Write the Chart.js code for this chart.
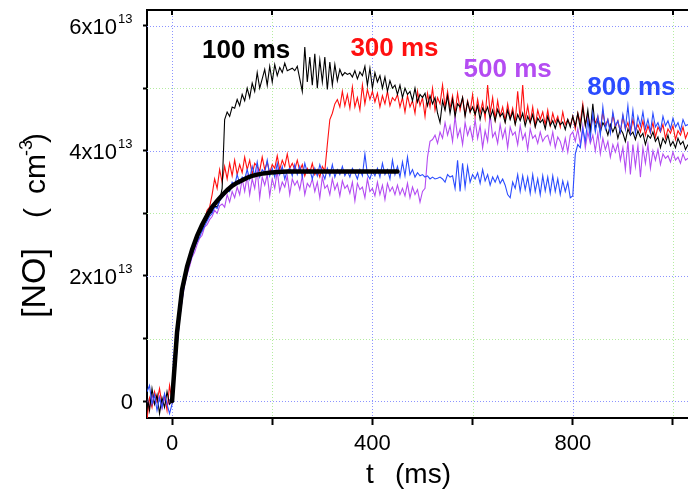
<!DOCTYPE html>
<html>
<head>
<meta charset="utf-8">
<title>NO</title>
<script src="https://cdn.jsdelivr.net/npm/chart.js@4.4.1/dist/chart.umd.min.js"></script>
<style>
    html, body { margin: 0; padding: 0; background: #fff; }
    canvas { display: block; }
</style>
</head>
<body>
<canvas id="chart" width="688" height="493"></canvas>
<script>
// Traces are sampled every 5 ms, first sample at -50 ms.
const T_START = -50;
const T_STEP = 5;
// Fit curve: one point every 10 ms from 0 ms.
const FIT_START = 0;
const FIT_STEP = 10;

// [NO] in units of 1e13 cm^-3, one row = 100 ms
const no100ms = [
    0.10, -0.15, 0.20, -0.05, 0.10, -0.20, 0.05, -0.10, 0.15, -0.05, 0.00, 0.55, 1.05, 1.50, 1.72, 2.00, 2.08, 2.30, 2.35, 2.52,
    2.55, 2.70, 2.72, 2.85, 2.90, 3.00, 3.02, 3.12, 3.10, 3.20, 3.40, 4.50, 4.62, 4.55, 4.70, 4.68, 4.82, 4.72, 4.90, 4.80,
    5.00, 4.85, 5.08, 4.95, 5.25, 5.00, 5.15, 5.30, 5.05, 5.35, 5.10, 5.38, 5.20, 5.33, 5.25, 5.40, 5.28, 5.30, 5.32, 5.28,
    5.35, 5.15, 4.95, 5.66, 5.10, 5.50, 5.05, 5.55, 5.00, 5.45, 5.10, 5.50, 4.98, 5.42, 5.05, 5.38, 5.12, 5.30, 5.20, 5.25,
    5.22, 5.24, 5.18, 5.28, 5.15, 5.26, 5.20, 5.35, 5.05, 5.32, 5.00, 5.25, 5.10, 5.20, 5.00, 5.18, 4.95, 5.12, 5.00, 5.05,
    4.90, 5.05, 4.85, 5.00, 4.90, 4.95, 4.80, 5.00, 4.78, 4.90, 4.85, 4.92, 4.72, 4.88, 4.75, 4.85, 4.60, 4.45, 4.80, 4.65,
    4.88, 4.60, 4.82, 4.55, 4.75, 4.70, 4.85, 4.55, 4.78, 4.62, 4.70, 4.58, 4.72, 4.50, 4.68, 4.60, 4.70, 4.52, 4.65, 4.48,
    4.66, 4.55, 4.60, 4.45, 4.65, 4.50, 4.62, 4.42, 4.58, 4.48, 4.60, 4.40, 4.55, 4.45, 4.58, 4.38, 4.52, 4.45, 4.50, 4.35,
    4.55, 4.40, 4.48, 4.36, 4.50, 4.42, 4.46, 4.34, 4.50, 4.38, 4.55, 4.40, 4.60, 4.35, 4.70, 4.40, 4.65, 4.30, 4.75, 4.35,
    4.50, 4.30, 4.45, 4.38, 4.25, 4.42, 4.30, 4.40, 4.20, 4.35, 4.28, 4.15, 4.35, 4.25, 4.30, 4.18, 4.32, 4.22, 4.28, 4.10,
    4.25, 4.20, 4.30, 4.15, 4.22, 4.05, 4.20, 4.12, 4.25, 4.08, 4.15, 4.05, 4.20, 4.10, 4.15, 4.02, 4.10
];

const no300ms = [
    -0.30, 0.05, -0.10, 0.15, 0.00, 0.20, -0.05, 0.10, -0.15, 0.25, 0.00, 0.45, 0.95, 1.35, 1.70, 1.92, 2.12, 2.20, 2.42, 2.45,
    2.62, 2.68, 2.85, 2.90, 3.05, 3.10, 3.30, 3.55, 3.40, 3.70, 3.50, 3.75, 3.55, 3.80, 3.60, 3.85, 3.62, 3.78, 3.65, 3.90,
    3.70, 3.85, 3.62, 3.80, 3.75, 3.68, 3.90, 3.70, 3.82, 3.65, 3.78, 3.72, 3.92, 3.70, 3.85, 3.75, 3.95, 3.72, 3.80, 3.70,
    3.85, 3.68, 3.78, 3.60, 3.72, 3.65, 3.80, 3.62, 3.70, 3.58, 3.75, 3.68, 4.10, 4.50, 4.60, 4.75, 4.82, 4.70, 4.95, 4.72,
    4.90, 4.68, 5.02, 4.70, 4.85, 4.65, 5.05, 4.75, 4.98, 4.82, 4.95, 4.78, 4.92, 4.70, 4.88, 4.75, 4.95, 4.72, 4.85, 4.80,
    4.90, 4.70, 4.85, 4.62, 4.88, 4.70, 4.80, 4.60, 4.95, 4.72, 4.85, 4.55, 4.92, 4.70, 5.00, 4.65, 4.85, 4.75, 5.05, 4.70,
    4.95, 4.68, 4.88, 4.60, 4.92, 4.65, 4.85, 4.58, 4.80, 4.62, 4.90, 4.55, 4.82, 4.60, 4.78, 4.52, 5.05, 4.60, 4.85, 4.50,
    4.80, 4.55, 4.70, 4.48, 4.75, 4.52, 4.68, 4.45, 4.95, 4.50, 5.05, 4.48, 4.72, 4.45, 4.70, 4.40, 4.65, 4.50, 4.62, 4.42,
    4.65, 4.40, 4.60, 4.45, 4.55, 4.38, 4.62, 4.42, 4.50, 4.40, 4.55, 4.35, 4.60, 4.45, 4.75, 4.42, 4.58, 4.38, 4.52, 4.45,
    4.55, 4.35, 4.62, 4.40, 4.50, 4.32, 4.58, 4.38, 4.48, 4.30, 4.55, 4.35, 4.45, 4.28, 4.50, 4.32, 4.42, 4.30, 4.48, 4.25,
    4.40, 4.28, 4.45, 4.22, 4.38, 4.30, 4.42, 4.20, 4.35, 4.28, 4.40, 4.18, 4.32, 4.25, 4.38, 4.20, 4.30
];

const no500ms = [
    0.05, -0.10, 0.10, -0.05, 0.00, 0.08, -0.12, 0.05, -0.08, 0.02, -0.02, 0.40, 0.90, 1.30, 1.60, 1.85, 2.02, 2.15, 2.30, 2.38,
    2.50, 2.60, 2.65, 2.78, 2.82, 2.90, 2.95, 3.05, 3.00, 3.12, 3.15, 3.10, 3.30, 3.18, 3.35, 3.25, 3.42, 3.30, 3.55, 3.35,
    3.60, 3.30, 3.55, 3.40, 3.70, 3.25, 3.58, 3.45, 3.62, 3.28, 3.55, 3.40, 3.68, 3.35, 3.50, 3.42, 3.60, 3.30, 3.55, 3.45,
    3.52, 3.38, 3.60, 3.30, 3.48, 3.42, 3.55, 3.35, 3.50, 3.25, 3.58, 3.40, 3.45, 3.30, 3.55, 3.38, 3.48, 3.28, 3.52, 3.40,
    3.45, 3.32, 3.50, 3.20, 3.48, 3.38, 3.42, 3.25, 3.55, 3.35, 3.40, 3.28, 3.50, 3.30, 3.45, 3.22, 3.48, 3.35, 3.42, 3.30,
    3.45, 3.30, 3.40, 3.28, 3.48, 3.25, 3.42, 3.30, 3.38, 3.18, 3.35, 3.40, 3.90, 4.15, 4.18, 4.25, 4.12, 4.30, 4.20, 4.45,
    4.25, 4.40, 4.15, 4.55, 4.22, 4.35, 4.10, 4.45, 4.25, 4.38, 4.18, 4.50, 4.20, 4.40, 4.05, 4.32, 4.15, 4.58, 4.22, 4.30,
    4.12, 4.42, 4.20, 4.35, 4.05, 4.38, 4.25, 4.30, 4.10, 4.40, 4.18, 4.28, 4.02, 4.35, 4.20, 4.25, 4.12, 4.30, 4.15, 4.22,
    4.25, 4.10, 4.30, 4.05, 4.22, 4.15, 4.00, 4.20, 3.98, 4.25, 4.30, 4.15, 4.35, 4.10, 4.40, 4.05, 4.30, 4.12, 4.25, 4.00,
    4.28, 3.95, 4.20, 4.02, 4.15, 3.90, 4.10, 3.98, 4.12, 3.85, 4.05, 3.70, 4.15, 3.62, 4.10, 3.75, 4.08, 3.58, 4.05, 3.80,
    4.10, 3.72, 4.00, 3.85, 4.02, 3.78, 3.95, 3.88, 3.92, 3.82, 3.98, 3.85, 3.90, 3.80, 3.95, 3.85, 3.88
];

const no800ms = [
    0.15, 0.25, -0.05, 0.10, -0.15, 0.05, -0.10, 0.12, -0.05, -0.20, -0.05, 0.35, 0.85, 1.30, 1.62, 1.88, 2.05, 2.20, 2.32, 2.45,
    2.55, 2.62, 2.72, 2.80, 2.88, 2.95, 3.00, 3.10, 3.08, 3.20, 3.25, 3.30, 3.40, 3.35, 3.50, 3.45, 3.62, 3.48, 3.58, 3.55,
    3.70, 3.55, 3.75, 3.60, 3.82, 3.58, 3.70, 3.65, 3.85, 3.60, 3.72, 3.58, 3.80, 3.62, 3.75, 3.55, 3.68, 3.72, 3.60, 3.78,
    3.62, 3.75, 3.58, 3.80, 3.65, 3.70, 3.55, 3.72, 3.60, 3.78, 3.65, 3.55, 3.72, 3.60, 3.78, 3.58, 3.70, 3.62, 3.75, 3.60,
    3.68, 3.58, 3.72, 3.65, 3.55, 3.70, 3.60, 3.95, 3.62, 3.55, 3.68, 3.60, 3.72, 3.58, 3.80, 3.62, 3.70, 3.55, 3.85, 3.62,
    3.75, 3.58, 3.82, 3.60, 3.90, 3.62, 3.70, 3.58, 3.65, 3.60, 3.62, 3.58, 3.60, 3.55, 3.58, 3.55, 3.56, 3.58, 3.55, 3.50,
    3.62, 3.58, 3.60, 3.40, 3.85, 3.35, 3.80, 3.42, 3.75, 3.50, 3.62, 3.55, 3.65, 3.48, 3.70, 3.52, 3.62, 3.45, 3.58, 3.50,
    3.60, 3.48, 3.55, 3.45, 3.30, 3.25, 3.50, 3.40, 3.62, 3.35, 3.60, 3.38, 3.58, 3.32, 3.62, 3.35, 3.55, 3.30, 3.60, 3.36,
    3.58, 3.32, 3.60, 3.35, 3.55, 3.30, 3.52, 3.35, 3.50, 3.25, 3.28, 3.95, 4.10, 4.05, 4.35, 4.15, 4.50, 4.20, 4.60, 4.30,
    4.55, 4.25, 4.70, 4.35, 4.50, 4.28, 4.62, 4.40, 4.48, 4.30, 4.58, 4.35, 4.72, 4.30, 4.65, 4.28, 4.55, 4.40, 4.62, 4.35,
    4.50, 4.30, 4.60, 4.38, 4.45, 4.32, 4.55, 4.40, 4.48, 4.35, 4.52, 4.38, 4.45, 4.32, 4.50, 4.40, 4.42
];

const noFit = [
    0.00, 1.10, 1.78, 2.15, 2.42, 2.64, 2.82, 2.97, 3.10, 3.20,
    3.29, 3.37, 3.44, 3.49, 3.53, 3.57, 3.60, 3.62, 3.635, 3.645,
    3.655, 3.66, 3.665, 3.67, 3.67, 3.67, 3.67, 3.67, 3.67, 3.67,
    3.67, 3.67, 3.67, 3.67, 3.67, 3.67, 3.67, 3.67, 3.67, 3.67,
    3.67, 3.67, 3.67, 3.67, 3.67, 3.67
];

const seriesLabels = ['100 ms', '300 ms', '500 ms', '800 ms'];
const labelTimes = [60, 356, 582, 829];
const labelValues = [5.49, 5.51, 5.18, 4.89];

const xTickLabels = [0, 400, 800];
const yTickValues = [0, 2, 4, 6];
const yTickText = ['0', '2x10', '4x10', '6x10'];
const yTickExp = ['', '13', '13', '13'];

const BLACK = '#000000';
const RED = '#ff1010';
const PURPLE = '#b44cf2';
const BLUE = '#2b4cff';
const GRID_BLUE = '#8c94ff';
const GRID_GREEN = '#b4eca0';
const FONT = '"Liberation Sans", Arial, sans-serif';

function toPoints(values, start, step) {
    return values.map((v, i) => ({ x: start + i * step, y: v }));
}

function trace(data, color, order) {
    return {
        data: toPoints(data, T_START, T_STEP),
        borderColor: color,
        borderWidth: 1.1,
        pointRadius: 0,
        tension: 0,
        order: order
    };
}

// dotted grid: blue on labelled ticks, green in between
const dottedGrid = {
    id: 'dottedGrid',
    beforeDatasetsDraw(chart) {
        const { ctx, chartArea: area, scales: { x, y } } = chart;
        ctx.save();
        ctx.lineWidth = 1;
        ctx.setLineDash([1, 2]);
        x.ticks.forEach((tick) => {
            const px = Math.round(x.getPixelForValue(tick.value)) + 0.5;
            ctx.strokeStyle = tick.value % 400 === 0 ? GRID_BLUE : GRID_GREEN;
            ctx.beginPath();
            ctx.moveTo(px, area.top);
            ctx.lineTo(px, area.bottom);
            ctx.stroke();
        });
        y.ticks.forEach((tick) => {
            const py = Math.round(y.getPixelForValue(tick.value)) + 0.5;
            ctx.strokeStyle = tick.value % 2 === 0 ? GRID_BLUE : GRID_GREEN;
            ctx.beginPath();
            ctx.moveTo(area.left, py);
            ctx.lineTo(area.right, py);
            ctx.stroke();
        });
        ctx.restore();
    }
};

const decorations = {
    id: 'decorations',
    afterDraw(chart) {
        const { ctx, chartArea: area, scales: { x, y } } = chart;
        ctx.save();

        // top frame with inward ticks
        ctx.strokeStyle = '#000';
        ctx.lineWidth = 2;
        ctx.beginPath();
        ctx.moveTo(area.left - 1, area.top);
        ctx.lineTo(area.right, area.top);
        x.ticks.forEach((tick) => {
            const px = Math.round(x.getPixelForValue(tick.value));
            ctx.moveTo(px, area.top);
            ctx.lineTo(px, area.top + 5);
        });
        ctx.stroke();

        // y tick labels with exponent
        ctx.fillStyle = '#000';
        ctx.textBaseline = 'alphabetic';
        yTickValues.forEach((v, i) => {
            const py = y.getPixelForValue(v);
            ctx.font = '22px ' + FONT;
            ctx.textAlign = 'right';
            if (yTickExp[i]) {
                ctx.fillText(yTickText[i], area.left - 30, py + 8);
                ctx.font = '13px ' + FONT;
                ctx.textAlign = 'left';
                ctx.fillText(yTickExp[i], area.left - 29, py - 3);
            } else {
                ctx.fillText(yTickText[i], area.left - 14, py + 8);
            }
        });

        // x tick labels
        ctx.font = '22px ' + FONT;
        ctx.textAlign = 'center';
        xTickLabels.forEach((v) => {
            ctx.fillText(String(v), x.getPixelForValue(v), area.bottom + 32);
        });

        // x title
        ctx.font = '28px ' + FONT;
        ctx.textAlign = 'left';
        ctx.fillText('t', 366, 483);
        ctx.fillText('(ms)', 395, 483);

        // y title, rotated
        ctx.save();
        ctx.translate(45, 318);
        ctx.rotate(-Math.PI / 2);
        ctx.font = '34px ' + FONT;
        ctx.fillText('[NO]', 0, 0);
        ctx.font = '30px ' + FONT;
        ctx.fillText('(', 100, 0);
        ctx.fillText('cm', 124, 0);
        ctx.font = '18px ' + FONT;
        ctx.fillText('-3', 162, -13);
        ctx.font = '30px ' + FONT;
        ctx.fillText(')', 175, 0);
        ctx.restore();

        // series labels
        const colors = [BLACK, RED, PURPLE, BLUE];
        ctx.font = 'bold 26px ' + FONT;
        ctx.textAlign = 'left';
        seriesLabels.forEach((text, i) => {
            ctx.fillStyle = colors[i];
            ctx.fillText(text, x.getPixelForValue(labelTimes[i]), y.getPixelForValue(labelValues[i]));
        });

        ctx.restore();
    }
};

new Chart(document.getElementById('chart'), {
    type: 'line',
    data: {
        datasets: [
            {
                data: toPoints(noFit, FIT_START, FIT_STEP),
                borderColor: BLACK,
                borderWidth: 4.5,
                borderCapStyle: 'round',
                pointRadius: 0,
                tension: 0,
                order: 0
            },
            trace(no800ms, BLUE, 1),
            trace(no100ms, BLACK, 2),
            trace(no300ms, RED, 3),
            trace(no500ms, PURPLE, 4)
        ]
    },
    options: {
        responsive: false,
        animation: false,
        devicePixelRatio: 1,
        layout: { padding: { top: 10, right: 0, left: 0, bottom: 0 } },
        plugins: {
            legend: { display: false },
            tooltip: { enabled: false }
        },
        scales: {
            x: {
                type: 'linear',
                min: -50,
                max: 1030,
                afterFit(scale) { scale.height = 75; },
                ticks: { stepSize: 200, includeBounds: false, display: false },
                grid: {
                    drawOnChartArea: false,
                    tickColor: '#000',
                    tickWidth: 2,
                    tickLength: 7
                },
                border: { display: true, color: '#000', width: 2 }
            },
            y: {
                min: -0.27,
                max: 6.25,
                afterFit(scale) { scale.width = 147; },
                ticks: { stepSize: 1, includeBounds: false, display: false },
                grid: {
                    drawOnChartArea: false,
                    tickColor: '#000',
                    tickWidth: 2,
                    tickLength: 4
                },
                border: { display: true, color: '#000', width: 2 }
            }
        }
    },
    plugins: [dottedGrid, decorations]
});
</script>
</body>
</html>
